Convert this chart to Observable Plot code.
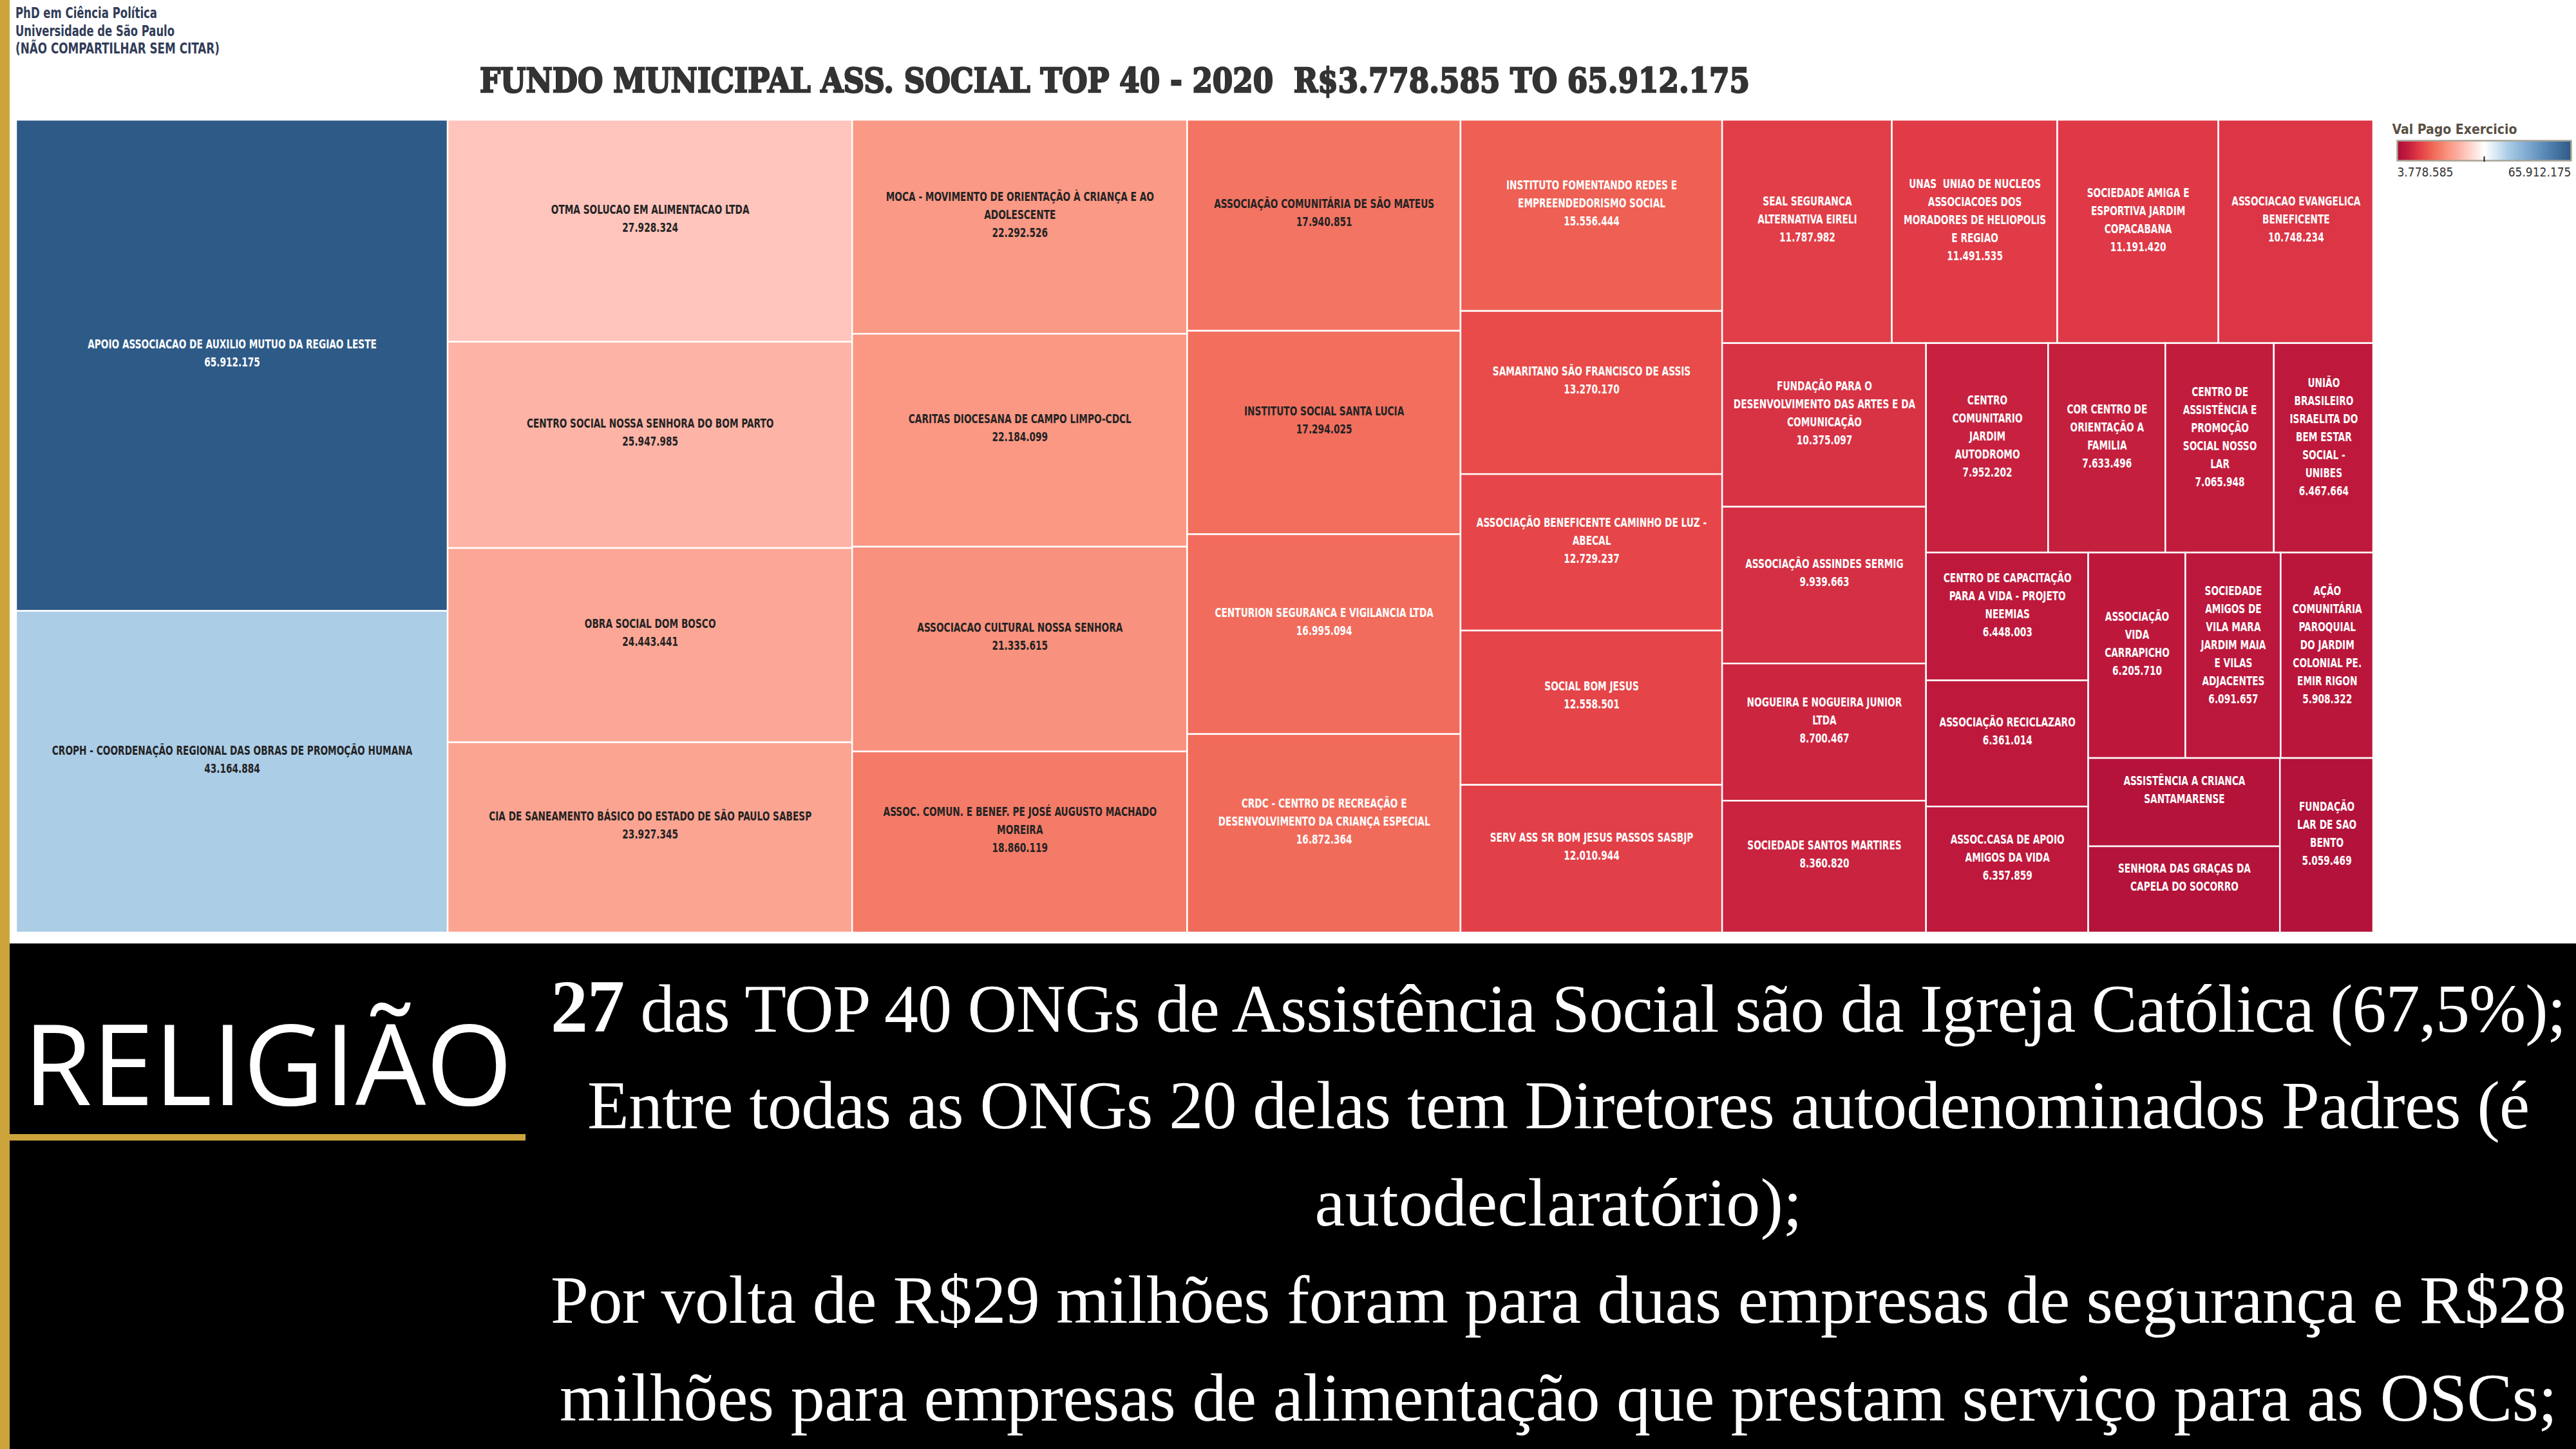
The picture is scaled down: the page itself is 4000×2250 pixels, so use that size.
<!DOCTYPE html>
<html>
<head>
<meta charset="utf-8">
<script src="https://cdn.jsdelivr.net/npm/d3@7"></script>
<script src="https://cdn.jsdelivr.net/npm/@observablehq/plot@0.6"></script>
<style>
  html, body { margin: 0; padding: 0; background: #fff; }
  body { width: 4000px; height: 2250px; position: relative; overflow: hidden; }
  .abs { position: absolute; }
  svg text { white-space: pre; }
</style>
</head>
<body>
<div class="abs" style="left:0;top:1465px;width:4000px;height:785px;background:#000"></div>
<div class="abs" style="left:0;top:0;width:15px;height:2250px;background:#CBA53C"></div>
<div class="abs" style="left:0;top:1761px;width:816px;height:10px;background:#CBA53C"></div>
<div id="treemap" class="abs" style="left:0;top:180px"></div>
<div id="legend" class="abs" style="left:3700px;top:175px"></div>
<svg id="overlay" class="abs" style="left:0;top:0;pointer-events:none" width="4000" height="2250"></svg>
<script>
// ---------------- data ----------------
const names = [
  "APOIO ASSOCIACAO DE AUXILIO MUTUO DA REGIAO LESTE",
  "CROPH - COORDENAÇÃO REGIONAL DAS OBRAS DE PROMOÇÃO HUMANA",
  "OTMA SOLUCAO EM ALIMENTACAO LTDA",
  "CENTRO SOCIAL NOSSA SENHORA DO BOM PARTO",
  "OBRA SOCIAL DOM BOSCO",
  "CIA DE SANEAMENTO BÁSICO DO ESTADO DE SÃO PAULO SABESP",
  "MOCA - MOVIMENTO DE ORIENTAÇÃO À CRIANÇA E AO ADOLESCENTE",
  "CARITAS DIOCESANA DE CAMPO LIMPO-CDCL",
  "ASSOCIACAO CULTURAL NOSSA SENHORA",
  "ASSOC. COMUN. E BENEF. PE JOSÉ AUGUSTO MACHADO MOREIRA",
  "ASSOCIAÇÃO COMUNITÁRIA DE SÃO MATEUS",
  "INSTITUTO SOCIAL SANTA LUCIA",
  "CENTURION SEGURANCA E VIGILANCIA LTDA",
  "CRDC - CENTRO DE RECREAÇÃO E DESENVOLVIMENTO DA CRIANÇA ESPECIAL",
  "INSTITUTO FOMENTANDO REDES E EMPREENDEDORISMO SOCIAL",
  "SAMARITANO SÃO FRANCISCO DE ASSIS",
  "ASSOCIAÇÃO BENEFICENTE CAMINHO DE LUZ - ABECAL",
  "SOCIAL BOM JESUS",
  "SERV ASS SR BOM JESUS PASSOS SASBJP",
  "SEAL SEGURANCA ALTERNATIVA EIRELI",
  "UNAS  UNIAO DE NUCLEOS ASSOCIACOES DOS MORADORES DE HELIOPOLIS E REGIAO",
  "SOCIEDADE AMIGA E ESPORTIVA JARDIM COPACABANA",
  "ASSOCIACAO EVANGELICA BENEFICENTE",
  "FUNDAÇÃO PARA O DESENVOLVIMENTO DAS ARTES E DA COMUNICAÇÃO",
  "ASSOCIAÇÃO ASSINDES SERMIG",
  "NOGUEIRA E NOGUEIRA JUNIOR LTDA",
  "SOCIEDADE SANTOS MARTIRES",
  "CENTRO COMUNITARIO JARDIM AUTODROMO",
  "COR CENTRO DE ORIENTAÇÃO A FAMILIA",
  "CENTRO DE ASSISTÊNCIA E PROMOÇÃO SOCIAL NOSSO LAR",
  "UNIÃO BRASILEIRO ISRAELITA DO BEM ESTAR SOCIAL - UNIBES",
  "CENTRO DE CAPACITAÇÃO PARA A VIDA - PROJETO NEEMIAS",
  "ASSOCIAÇÃO RECICLAZARO",
  "ASSOC.CASA DE APOIO AMIGOS DA VIDA",
  "ASSOCIAÇÃO VIDA CARRAPICHO",
  "SOCIEDADE AMIGOS DE VILA MARA JARDIM MAIA E VILAS ADJACENTES",
  "AÇÃO COMUNITÁRIA PAROQUIAL DO JARDIM COLONIAL PE. EMIR RIGON",
  "ASSISTÊNCIA A CRIANCA SANTAMARENSE",
  "SENHORA DAS GRAÇAS DA CAPELA DO SOCORRO",
  "FUNDAÇÃO LAR DE SAO BENTO"
];
const values = [
  65912175, 43164884, 27928324, 25947985, 24443441, 23927345, 22292526, 22184099,
  21335615, 18860119, 17940851, 17294025, 16995094, 16872364, 15556444, 13270170,
  12729237, 12558501, 12010944, 11787982, 11491535, 11191420, 10748234, 10375097,
  9939663, 8700467, 8360820, 7952202, 7633496, 7065948, 6467664, 6448003,
  6361014, 6357859, 6205710, 6091657, 5908322, 5260000, 5140000, 5059469
];
const colorDomain = [3778585, 65912175];
const legendTitle = "Val Pago Exercicio";
const headerTitle = "FUNDO MUNICIPAL ASS. SOCIAL TOP 40 - 2020  R$";
const headerLines = ["PhD em Ciência Política", "Universidade de São Paulo", "(NÃO COMPARTILHAR SEM CITAR)"];

// color stops (fraction of domain, colour) of the red-white-blue diverging palette
const colorStops = [
  [0, "#A90C38"], [0.04, "#BD183C"], [0.08, "#CC2540"], [0.12, "#DF3947"],
  [0.16, "#EA4F4A"], [0.21, "#F16B5B"], [0.25, "#F57F6B"], [0.30, "#FA9A86"],
  [0.34, "#FCAA9A"], [0.39, "#FFC5BD"], [0.45, "#FFE4DF"], [0.50, "#FFFFFF"],
  [0.56, "#DDEBF6"], [0.634, "#ABCDE6"], [0.75, "#7EA9D0"], [0.87, "#5382B0"], [1, "#2E5A87"]
];

// ---------------- helpers ----------------
const [vmin, vmax] = colorDomain;
const fmt = d3.formatLocale({decimal: ",", thousands: ".", grouping: [3], currency: ["R$", ""]}).format(",d");
const colorScale = {
  type: "linear",
  domain: colorStops.map(s => vmin + s[0] * (vmax - vmin)),
  range: colorStops.map(s => s[1]),
  interpolate: "rgb"
};
const FF = "'DejaVu Sans Condensed', 'Liberation Sans Narrow', 'DejaVu Sans', sans-serif";
const ctx = document.createElement("canvas").getContext("2d");
const FS = 20;
function rawMeasure(s, fs, w = "bold") { ctx.font = `${w} ${fs}px ${FF}`; return ctx.measureText(s).width; }
// horizontal condensing so that the one-line label of the largest cell matches the reference width
const SX = Math.min(1, 449 / rawMeasure(names[0], FS));
const measure = s => rawMeasure(s, FS) * SX;
function wrap(text, maxW) {
  const words = text.split(" ");
  const lines = [];
  let cur = null;
  for (const w of words) {
    if (cur === null) { cur = w; continue; }
    const trial = cur + " " + w;
    if (measure(trial) <= maxW) cur = trial; else { lines.push(cur); cur = w; }
  }
  if (cur !== null) lines.push(cur);
  return lines;
}

// ---------------- treemap layout ----------------
const W = 3660, H = 1262;
const root = d3.hierarchy({children: names.map((n, i) => ({name: n, value: values[i]}))})
  .sum(d => d.value)
  .sort((a, b) => b.value - a.value);
d3.treemap().tile(d3.treemapSquarify).size([W, H]).round(false)(root);
const cells = root.leaves().map(l => ({name: l.data.name, value: l.data.value, x0: l.x0, x1: l.x1, y0: l.y0, y1: l.y1}));

const LH = 28, PAD = 16.85;
const darkText = v => v > 17.1e6 && v < 55e6;
const labelLines = [];
for (const c of cells) {
  const w = c.x1 - c.x0, h = c.y1 - c.y0;
  const lines = wrap(c.name, w - 2 * PAD);
  if ((lines.length + 2) * LH + 30 <= h) lines.push(fmt(c.value));
  const n = lines.length;
  const cx = (c.x0 + c.x1) / 2, cy = (c.y0 + c.y1) / 2;
  lines.forEach((t, i) => labelLines.push({text: t, x: cx, y: cy - 13.5 * n + LH * i, dark: darkText(c.value)}));
}

const mL = 25, mR = 15, mT = 6, PH = 1280;
const tm = Plot.plot({
  width: 3700, height: PH,
  marginLeft: mL, marginRight: mR, marginTop: mT, marginBottom: PH - mT - H,
  x: {domain: [0, W], range: [mL, mL + W], axis: null},
  y: {domain: [0, H], range: [mT, mT + H], axis: null},
  color: colorScale,
  style: {background: "transparent", overflow: "visible"},
  marks: [
    Plot.rect(cells, {x1: "x0", x2: "x1", y1: "y0", y2: "y1", fill: "value", stroke: "white", strokeWidth: 2.5}),
    Plot.text(labelLines.filter(d => d.dark), {x: "x", y: "y", text: "text", lineAnchor: "bottom", textAnchor: "middle",
      fill: "#232323", fontSize: FS, fontFamily: FF, fontWeight: "bold", className: "cell-label"}),
    Plot.text(labelLines.filter(d => !d.dark), {x: "x", y: "y", text: "text", lineAnchor: "bottom", textAnchor: "middle",
      fill: "white", fontSize: FS, fontFamily: FF, fontWeight: "bold", className: "cell-label"})
  ]
});
// condense label glyphs horizontally around their anchor
tm.querySelectorAll(".cell-label text").forEach(t => {
  const tr = t.getAttribute("transform");
  if (tr) t.setAttribute("transform", `${tr} scale(${SX},1)`);
  else {
    const x = +t.getAttribute("x") || 0, y = +t.getAttribute("y") || 0;
    t.removeAttribute("x"); t.removeAttribute("y");
    t.setAttribute("transform", `translate(${x},${y}) scale(${SX},1)`);
  }
});
document.getElementById("treemap").appendChild(tm);

// ---------------- legend ----------------
const lg = Plot.plot({
  width: 300, height: 110, marginLeft: 22, marginRight: 8, marginTop: 43, marginBottom: 36,
  x: {domain: [vmin, vmax], axis: null},
  y: {domain: [0, 1], axis: null},
  color: colorScale,
  style: {background: "transparent", overflow: "visible"},
  marks: [
    Plot.raster({fill: (x, y) => x, x1: vmin, x2: vmax, y1: 0, y2: 1, width: 540, height: 1}),
    Plot.frame({stroke: "#a9a496", strokeWidth: 2.5}),
    Plot.ruleX([(vmin + vmax) / 2], {y1: -0.07, y2: 0.2, stroke: "#222", strokeWidth: 2}),
    Plot.text([vmin], {x: d => d, y: -0.78, text: d => fmt(d), textAnchor: "start", lineAnchor: "bottom",
      fill: "#333", fontSize: 19, fontFamily: FF}),
    Plot.text([vmax], {x: d => d, y: -0.78, text: d => fmt(d), textAnchor: "end", lineAnchor: "bottom",
      fill: "#333", fontSize: 19, fontFamily: FF}),
    Plot.text([legendTitle], {x: vmin, y: 1.35, dx: -8, text: d => d, textAnchor: "start", lineAnchor: "bottom",
      fill: "#5a5045", fontSize: 21, fontFamily: FF, fontWeight: "bold"})
  ]
});
document.getElementById("legend").appendChild(lg);

// ---------------- overlay texts ----------------
const ns = "http://www.w3.org/2000/svg";
const ov = document.getElementById("overlay");
function addText(str, attrs, parts) {
  const t = document.createElementNS(ns, "text");
  for (const k in attrs) t.setAttribute(k, attrs[k]);
  if (parts) {
    for (const p of parts) {
      const s = document.createElementNS(ns, "tspan");
      for (const k in p.attrs || {}) s.setAttribute(k, p.attrs[k]);
      s.textContent = p.text;
      t.appendChild(s);
    }
  } else t.textContent = str;
  ov.appendChild(t);
  return t;
}
// small header, top-left
const headerWidths = [220, 247, 317], headerBase = [28, 56, 83];
headerLines.forEach((s, i) => addText(s, {
  x: 24, y: headerBase[i], "font-family": FF, "font-weight": "bold", "font-size": 23,
  fill: "#313c58", textLength: headerWidths[i], lengthAdjust: "spacingAndGlyphs"
}));
addText(headerTitle + fmt(vmin) + " TO " + fmt(vmax), {
  x: 745, y: 143, "font-family": "'DejaVu Serif', 'Liberation Serif', serif", "font-weight": "bold",
  "font-size": 53, fill: "#333", stroke: "#333", "stroke-width": 2.5, textLength: 1972, lengthAdjust: "spacingAndGlyphs"
});
addText("RELIGIÃO", {
  x: 36, y: 1716, "font-family": "'Open Sans', 'Noto Sans', sans-serif", "font-size": 174,
  fill: "white", textLength: 760, lengthAdjust: "spacingAndGlyphs"
});
const serif = "'Liberation Serif', 'Times New Roman', serif";
const noteLines = [
  {parts: [{text: "27", attrs: {"font-weight": "bold", "font-size": 116}}, {text: " das TOP 40 ONGs de Assistência Social são da Igreja Católica (67,5%);"}], y: 1602, w: 3130},
  {text: "Entre todas as ONGs 20 delas tem Diretores autodenominados Padres (é", y: 1752, w: 3016},
  {text: "autodeclaratório);", y: 1903, w: 757},
  {text: "Por volta de R$29 milhões foram para duas empresas de segurança e R$28", y: 2054, w: 3130},
  {text: "milhões para empresas de alimentação que prestam serviço para as OSCs;", y: 2206, w: 3102}
];
for (const L of noteLines) {
  addText(L.text, {x: 2420, y: L.y, "text-anchor": "middle", "font-family": serif, "font-size": 106,
    fill: "white", textLength: L.w, lengthAdjust: "spacing"}, L.parts);
}
</script>
</body>
</html>
